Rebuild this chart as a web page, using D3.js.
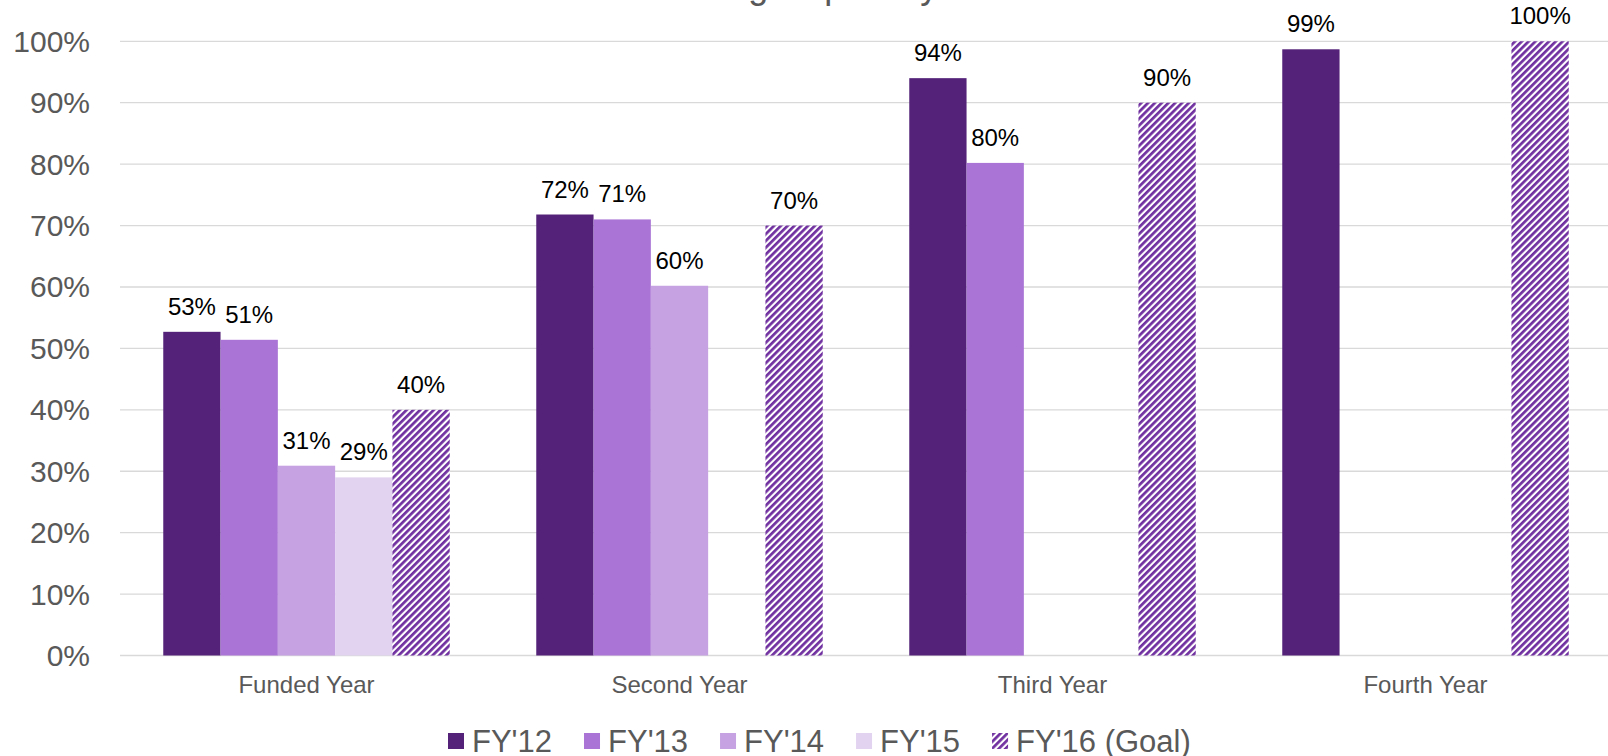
<!DOCTYPE html>
<meta charset="UTF-8">
<style>
body { margin: 0; background: #fff; }
text { font-family: "Liberation Sans", Arial, sans-serif; }
.grid line { stroke: #d9d9d9; stroke-width: 1.3px; }
.ylab { font-size: 30px; fill: #595959; }
.xlab { font-size: 24px; fill: #595959; }
.val { font-size: 24px; fill: #000; }
.leg text { font-size: 31px; fill: #595959; }
</style>
<body>
<script src="https://cdn.jsdelivr.net/npm/d3@7/dist/d3.min.js"></script>
<script>

// chart data
var categories = ["Funded Year", "Second Year", "Third Year", "Fourth Year"];
var seriesNames = ["FY'12", "FY'13", "FY'14", "FY'15", "FY'16 (Goal)"];
var fy12 = [0.527, 0.718, 0.94, 0.987];
var fy13 = [0.514, 0.71, 0.802, null];
var fy14 = [0.309, 0.602, null, null];
var fy15 = [0.29, null, null, null];
var fy16 = [0.40, 0.70, 0.90, 1.00];
var yTicks = [0, 0.1, 0.2, 0.3, 0.4, 0.5, 0.6, 0.7, 0.8, 0.9, 1.0];

var series = [fy12, fy13, fy14, fy15, fy16];
var colors = ["#542379", "#a974d5", "#c6a2e2", "#e2d3f1", "url(#hatch)"];

var width = 1608, height = 756;
var plotLeft = 120, plotRight = 1612, plotTop = 41.3, plotBottom = 655.5;

var svg = d3.select("body").append("svg")
    .attr("width", width)
    .attr("height", height);

// diagonal hatch for the goal series
var pat = svg.append("defs").append("pattern")
    .attr("id", "hatch")
    .attr("patternUnits", "userSpaceOnUse")
    .attr("width", 4.8)
    .attr("height", 4.8)
    .attr("patternTransform", "rotate(45)");
pat.append("rect").attr("width", 4.8).attr("height", 4.8).attr("fill", "#fff");
pat.append("rect").attr("width", 2.7).attr("height", 4.8).attr("fill", "#7030a0");

var x0 = d3.scaleBand().domain(categories).range([plotLeft, plotRight]).padding(0);
var x1 = d3.scaleBand().domain(d3.range(series.length))
    .range([0, x0.bandwidth()]).paddingInner(0).paddingOuter(0.755);
var y = d3.scaleLinear().domain([0, 1]).range([plotBottom, plotTop]);
var fmt = d3.format(".0%");

// title, mostly above the visible area
svg.append("text")
    .attr("x", 464)
    .attr("y", -2)
    .style("font-size", "36px")
    .style("fill", "#595959")
    .text("Percent of Funding Capital by Year");

// gridlines
svg.append("g").attr("class", "grid")
  .selectAll("line").data(yTicks).enter().append("line")
    .attr("x1", plotLeft).attr("x2", plotRight)
    .attr("y1", function(d) { return y(d); })
    .attr("y2", function(d) { return y(d); });

// y labels
svg.append("g").selectAll("text").data(yTicks).enter().append("text")
    .attr("class", "ylab")
    .attr("x", 90)
    .attr("y", function(d) { return y(d); })
    .attr("dy", "0.35em")
    .attr("text-anchor", "end")
    .text(function(d) { return fmt(d); });

// x labels
svg.append("g").selectAll("text").data(categories).enter().append("text")
    .attr("class", "xlab")
    .attr("x", function(d) { return x0(d) + x0.bandwidth() / 2; })
    .attr("y", 693)
    .attr("text-anchor", "middle")
    .text(function(d) { return d; });

// bars
var bars = [];
series.forEach(function(s, i) {
  s.forEach(function(v, j) {
    if (v != null) bars.push({s: i, cat: categories[j], v: v});
  });
});

svg.append("g").selectAll("rect").data(bars).enter().append("rect")
    .attr("x", function(d) { return x0(d.cat) + x1(d.s); })
    .attr("width", x1.bandwidth())
    .attr("y", function(d) { return y(d.v); })
    .attr("height", function(d) { return y(0) - y(d.v); })
    .attr("fill", function(d) { return colors[d.s]; });

svg.append("g").selectAll("text").data(bars).enter().append("text")
    .attr("class", "val")
    .attr("x", function(d) { return x0(d.cat) + x1(d.s) + x1.bandwidth() / 2; })
    .attr("y", function(d) { return y(d.v) - 17; })
    .attr("text-anchor", "middle")
    .text(function(d) { return fmt(d.v); });

// legend
var leg = svg.append("g").attr("class", "leg");
var lx = 448;
seriesNames.forEach(function(name, i) {
  var g = leg.append("g").attr("transform", "translate(" + lx + ",0)");
  g.append("rect")
      .attr("x", 0).attr("y", 733)
      .attr("width", 16).attr("height", 16)
      .attr("fill", colors[i]);
  var t = g.append("text")
      .attr("x", 24).attr("y", 752)
      .text(name);
  lx += 24 + t.node().getComputedTextLength() + 32;
});

</script>
</body>
